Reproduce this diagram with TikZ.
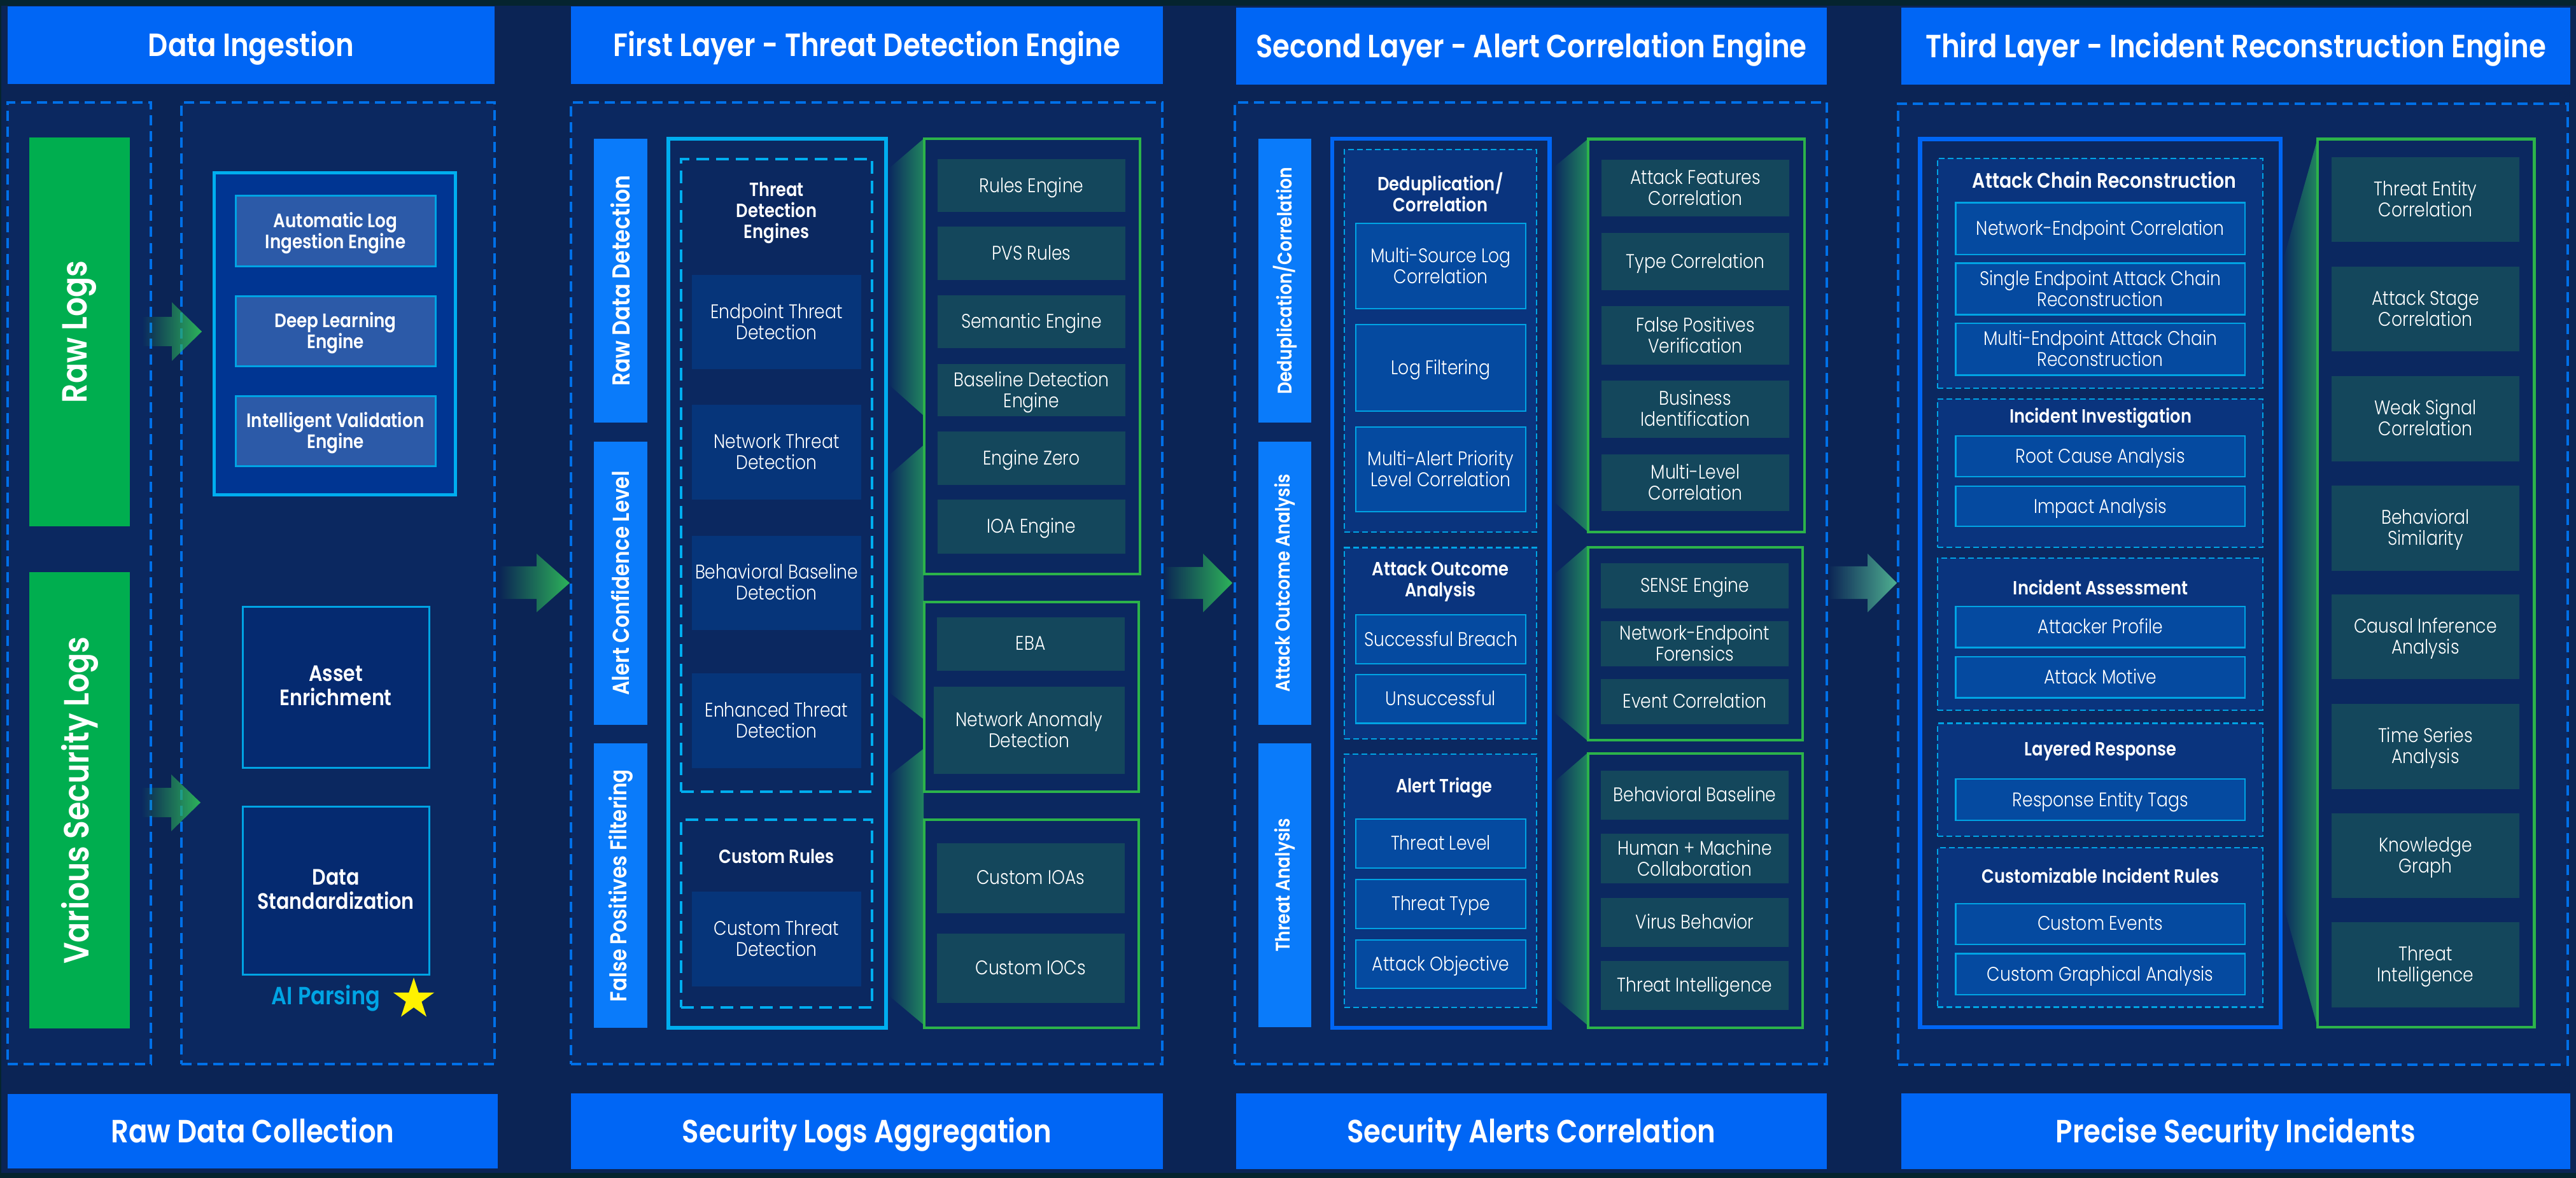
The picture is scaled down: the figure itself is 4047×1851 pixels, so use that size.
\documentclass[tikz,border=0pt]{standalone}
\usepackage{fontspec}
\usetikzlibrary{fadings,shapes.geometric}
\setmainfont{Poppins}
\newfontfamily\fReg[FakeStretch=0.86]{Poppins Light}
\newfontfamily\fHead[FakeStretch=0.86]{Poppins SemiBold}
\definecolor{bgout}{HTML}{05242F}
\definecolor{bgc}{HTML}{0B2455}
\definecolor{panelc}{HTML}{0B2860}
\definecolor{hblue}{HTML}{0066F5}
\definecolor{dashb}{HTML}{0070E8}
\definecolor{barb}{HTML}{0A7BFA}
\definecolor{barg}{HTML}{00AE4F}
\definecolor{cyanl}{HTML}{00AEEF}
\definecolor{cyans}{HTML}{00A4E4}
\definecolor{navyf}{HTML}{003592}
\definecolor{engf}{HTML}{2C5AA8}
\definecolor{stdf}{HTML}{052A70}
\definecolor{grnl}{HTML}{2CB34A}
\definecolor{tealf}{HTML}{14475C}
\definecolor{threatf}{HTML}{06357A}
\definecolor{groupf}{HTML}{0A347E}
\definecolor{itemf}{HTML}{054AA0}
\definecolor{wedgec}{HTML}{21855F}
\definecolor{arrowc}{HTML}{2DB35A}
\definecolor{arrowp}{HTML}{4FB091}
\tikzfading[name=fadeR, left color=transparent!100, right color=transparent!0]
\tikzset{
  every node/.style={inner sep=0pt,outer sep=0pt,align=center,text=white},
  hdr/.style={fill=hblue,font=\fHead\fontsize{50.5}{60}\selectfont},
  dpanel/.style={fill=panelc,draw=dashb,line width=4pt,dash pattern=on 16pt off 9pt},
  greenbar/.style={fill=barg,font=\fHead\fontsize{55}{64}\selectfont},
  bluebar/.style={fill=barb,font=\fHead\fontsize{38.5}{44}\selectfont},
  bluebarm/.style={fill=barb,font=\fHead\fontsize{36.2}{42}\selectfont},
  bluebarb/.style={fill=barb,font=\fHead\fontsize{31}{36}\selectfont},
  cyanbox/.style={fill=navyf,draw=cyanl,line width=5pt},
  engbox/.style={fill=engf,draw=cyans,line width=3pt,font=\fHead\fontsize{30.5}{33}\selectfont},
  stdbox/.style={fill=stdf,draw=cyans,line width=3pt,font=\fHead\fontsize{35}{38}\selectfont},
  aitext/.style={text=cyans,font=\fHead\fontsize{39}{44}\selectfont},
  staricon/.style={star,star points=5,star point ratio=2.618,fill=yellow,minimum size=68pt},
  cyanframe/.style={fill=panelc,draw=cyanl,line width=6pt},
  blueframe/.style={fill=panelc,draw=hblue,line width=6.5pt},
  greenframe/.style={fill=panelc,draw=grnl,line width=4.5pt},
  tealitem/.style={fill=tealf,font=\fReg\fontsize{31}{33}\selectfont},
  cyandash/.style={draw=cyanl,line width=4pt,dash pattern=on 20pt off 11pt},
  threatitem/.style={fill=threatf,font=\fReg\fontsize{31}{33}\selectfont},
  groupbox/.style={fill=groupf,draw=cyans,line width=2.5pt,dash pattern=on 9pt off 5pt},
  blueitem/.style={fill=itemf,draw=cyans,line width=2.5pt,font=\fReg\fontsize{31}{33}\selectfont},
  titletext/.style={font=\fHead\fontsize{30}{33}\selectfont},
  titlewide/.style={font=\fHead\fontsize{33}{36}\selectfont},
  wedge/.style={fill=wedgec,path fading=fadeR},
  blockarrow/.style={fill=arrowc,path fading=fadeR},
  blockpale/.style={fill=arrowp,path fading=fadeR},
}
% empty frame
\newcommand{\fr}[6]{\node[#1,minimum width={(#5-#3)*1pt},minimum height={(#6-#4)*1pt}] (#2) at ({(#3+#5)/2},{(#4+#6)/2}) {};}
% box with text: text node sits a little below the box centre
\newcommand{\bx}[7]{\fr{#1}{#2}{#3}{#4}{#5}{#6}\node[#1,fill=none,draw=none,minimum width=0pt,minimum height=0pt,yshift=-3pt] (#2t) at (#2.center) {\vphantom{Ag}#7\vphantom{Ag}};}
\newcommand{\hx}[7]{\fr{#1}{#2}{#3}{#4}{#5}{#6}\node[#1,fill=none,draw=none,minimum width=0pt,minimum height=0pt,yshift=-5pt] (#2t) at (#2.center) {\vphantom{Ag}#7\vphantom{Ag}};}
\newcommand{\rbx}[7]{\node[#1,rotate=90,minimum width={(#6-#4)*1pt},minimum height={(#5-#3)*1pt}] (#2) at ({(#3+#5)/2},{(#4+#6)/2}) {#7};}
\begin{document}
\begin{tikzpicture}[x=1pt,y=-1pt]
\useasboundingbox (0,0) rectangle (4047,1851);
\fill[bgout] (0,0) rectangle (4047,1851);
\fill[bgc] (2,9) rectangle (4047,1843);
% headers
\hx{hdr}{h1}{12}{10}{777}{132}{Data Ingestion}
\hx{hdr}{h2}{897}{10}{1827}{132}{First Layer - Threat Detection Engine}
\hx{hdr}{h3}{1942}{12}{2870}{133}{Second Layer - Alert Correlation Engine}
\hx{hdr}{h4}{2987}{12}{4038}{133}{Third Layer - Incident Reconstruction Engine}
\hx{hdr}{f1}{12}{1719}{782}{1836}{Raw Data Collection}
\hx{hdr}{f2}{897}{1718}{1827}{1837}{Security Logs Aggregation}
\hx{hdr}{f3}{1942}{1718}{2870}{1837}{Security Alerts Correlation}
\hx{hdr}{f4}{2987}{1718}{4038}{1837}{Precise Security Incidents}
% dashed panels
\fr{dpanel}{pa}{11.5}{161}{237}{1672}
\fr{dpanel}{pb}{285}{161}{777}{1672}
\fr{dpanel}{pc}{897}{161}{1826}{1672}
\fr{dpanel}{pd}{1940}{161}{2870}{1672}
\fr{dpanel}{pe}{2982}{163}{4034}{1673}
% block arrows
\fill[blockarrow] (223,498) -- (270,498) -- (270,475) -- (317,521) -- (270,567) -- (270,544) -- (223,544) -- cycle;
\fill[blockarrow] (222,1238) -- (269,1238) -- (269,1217) -- (315,1261) -- (269,1306) -- (269,1284) -- (222,1284) -- cycle;
\fill[blockarrow] (784,890) -- (843,890) -- (843,870) -- (895,916) -- (843,962) -- (843,941) -- (784,941) -- cycle;
\fill[blockarrow] (1827,891) -- (1890,891) -- (1890,870) -- (1936,916) -- (1890,962) -- (1890,941) -- (1827,941) -- cycle;
\fill[blockpale] (2872,890) -- (2934,890) -- (2934,870) -- (2980,916) -- (2934,962) -- (2934,941) -- (2872,941) -- cycle;
% green bars
\rbx{greenbar}{rawlogs}{46}{216}{204}{827}{Raw Logs}
\rbx{greenbar}{seclogs}{46}{899}{204}{1616}{Various Security Logs}
% ingestion boxes
\fr{cyanbox}{ing}{336}{272}{715}{777.5}
\bx{engbox}{e1}{370}{308}{684}{418}{Automatic Log\\Ingestion Engine}
\bx{engbox}{e2}{370}{465}{684}{575}{Deep Learning\\Engine}
\bx{engbox}{e3}{370}{622}{684}{732}{Intelligent Validation\\Engine}
\bx{stdbox}{asset}{381}{953}{674}{1206}{Asset\\Enrichment}
\bx{stdbox}{std}{381}{1267}{674}{1531}{Data\\Standardization}
\node[aitext] (ai) at (512,1569) {AI Parsing};
\node[staricon] (st) at (650,1570) {};
% wedges
\fill[wedge] (1396,265) -- (1451,218) -- (1451,653) -- (1396,604) -- cycle;
\fill[wedge] (1396,747) -- (1451,699) -- (1451,1130) -- (1396,1087) -- cycle;
\fill[wedge] (1396,1219) -- (1451,1176) -- (1451,1610) -- (1396,1564) -- cycle;
\fill[wedge] (2441,262) -- (2493,219) -- (2493,834) -- (2441,788) -- cycle;
\fill[wedge] (2441,903) -- (2493,858) -- (2493,1163) -- (2441,1119) -- cycle;
\fill[wedge] (2441,1229) -- (2493,1184) -- (2493,1610) -- (2441,1566) -- cycle;
\fill[wedge] (3586,410) -- (3640,219) -- (3640,1610) -- (3586,1418) -- cycle;
% first layer
\rbx{bluebar}{b11}{933}{218.5}{1016.5}{664}{Raw Data Detection}
\rbx{bluebarm}{b12}{933}{693.5}{1016.5}{1139}{Alert Confidence Level}
\rbx{bluebarm}{b13}{933}{1168}{1016.5}{1615}{False Positives Filtering}
\fr{cyanframe}{cf}{1050}{218}{1392}{1615}
\fr{cyandash}{cd1}{1070}{250}{1370}{1244}
\fr{cyandash}{cd2}{1070}{1288}{1370}{1583}
\node[titletext] (tde) at (1220,334) {Threat\\Detection\\Engines};
\bx{threatitem}{t1}{1087}{432}{1353}{580}{Endpoint Threat\\Detection}
\bx{threatitem}{t2}{1087}{636}{1353}{785}{Network Threat\\Detection}
\bx{threatitem}{t3}{1087}{841.5}{1353}{990}{Behavioral Baseline\\Detection}
\bx{threatitem}{t4}{1087}{1058}{1353}{1206.5}{Enhanced Threat\\Detection}
\node[titletext] (tcr) at (1220,1346) {Custom Rules};
\bx{threatitem}{t5}{1087}{1401}{1353}{1550}{Custom Threat\\Detection}
\fr{greenframe}{g11}{1452}{218}{1791}{902}
\fr{greenframe}{g12}{1452}{946}{1789}{1244}
\fr{greenframe}{g13}{1452}{1288}{1789}{1615}
\bx{tealitem}{a1}{1473}{250}{1768}{333}{Rules Engine}
\bx{tealitem}{a2}{1473}{356}{1768}{440}{PVS Rules}
\bx{tealitem}{a3}{1473}{463.5}{1768}{547}{Semantic Engine}
\bx{tealitem}{a4}{1473}{572}{1768}{654}{Baseline Detection\\Engine}
\bx{tealitem}{a5}{1473}{678}{1768}{762}{Engine Zero}
\bx{tealitem}{a6}{1473}{785}{1768}{869.5}{IOA Engine}
\bx{tealitem}{a7}{1472}{970}{1766.5}{1053.5}{EBA}
\bx{tealitem}{a8}{1467}{1078.5}{1766.5}{1216}{Network Anomaly\\Detection}
\bx{tealitem}{a9}{1472}{1325}{1766.5}{1435}{Custom IOAs}
\bx{tealitem}{a10}{1472}{1467}{1766.5}{1576}{Custom IOCs}
% second layer
\rbx{bluebarb}{b21}{1977}{218.5}{2060}{664}{Deduplication/Correlation}
\rbx{bluebarb}{b22}{1977}{693.5}{2060}{1139}{Attack Outcome Analysis}
\rbx{bluebarb}{b23}{1977}{1168}{2060}{1614}{Threat Analysis}
\fr{blueframe}{bf2}{2093}{218}{2434.5}{1615}
\fr{groupbox}{g21}{2112}{235}{2414}{836}
\fr{groupbox}{g22}{2112}{860.5}{2414}{1161}
\fr{groupbox}{g23}{2112}{1185}{2414}{1583}
\node[titletext] (td) at (2263,301.5) {Deduplication/\\Correlation};
\bx{blueitem}{c1}{2130}{351}{2397}{485}{Multi-Source Log\\Correlation}
\bx{blueitem}{c2}{2130}{510}{2397}{646}{Log Filtering}
\bx{blueitem}{c3}{2130}{671}{2397}{804}{Multi-Alert Priority\\Level Correlation}
\node[titletext] (tao) at (2263,913.5) {Attack Outcome\\Analysis};
\bx{blueitem}{c4}{2130}{966}{2397}{1043}{Successful Breach}
\bx{blueitem}{c5}{2130}{1060}{2397}{1136.5}{Unsuccessful}
\node[titletext] (tat) at (2269,1238) {Alert Triage};
\bx{blueitem}{c6}{2130}{1287}{2397}{1364}{Threat Level}
\bx{blueitem}{c7}{2130}{1382}{2397}{1459}{Threat Type}
\bx{blueitem}{c8}{2130}{1477}{2397}{1553}{Attack Objective}
\fr{greenframe}{g21f}{2495}{218.5}{2835}{836}
\fr{greenframe}{g22f}{2495}{860}{2832}{1163}
\fr{greenframe}{g23f}{2495}{1184}{2832}{1615}
\bx{tealitem}{d1}{2516}{251}{2811}{340.5}{Attack Features\\Correlation}
\bx{tealitem}{d2}{2516}{366}{2811}{456}{Type Correlation}
\bx{tealitem}{d3}{2516}{481}{2811}{573}{False Positives\\Verification}
\bx{tealitem}{d4}{2516}{598}{2811}{687.5}{Business\\Identification}
\bx{tealitem}{d5}{2516}{714}{2811}{803}{Multi-Level\\Correlation}
\bx{tealitem}{d6}{2515}{885}{2810}{955.5}{SENSE Engine}
\bx{tealitem}{d7}{2515}{976}{2810}{1046.5}{Network-Endpoint\\Forensics}
\bx{tealitem}{d8}{2515}{1067}{2810}{1137.5}{Event Correlation}
\bx{tealitem}{d9}{2515}{1210.5}{2810}{1288}{Behavioral Baseline}
\bx{tealitem}{d10}{2515}{1310}{2810}{1388}{Human + Machine\\Collaboration}
\bx{tealitem}{d11}{2515}{1411}{2810}{1487.5}{Virus Behavior}
\bx{tealitem}{d12}{2515}{1509.5}{2810}{1587}{Threat Intelligence}
% third layer
\fr{blueframe}{bf3}{3016.5}{218.5}{3583}{1614}
\fr{groupbox}{g31}{3044}{249}{3555}{610}
\fr{groupbox}{g32}{3044}{627}{3555}{860}
\fr{groupbox}{g33}{3044}{877}{3555}{1116}
\fr{groupbox}{g34}{3044}{1136.5}{3555}{1314}
\fr{groupbox}{g35}{3044}{1332}{3555}{1582.5}
\node[titlewide] (ta1) at (3306,283) {Attack Chain Reconstruction};
\bx{blueitem}{e31}{3072.5}{318.5}{3527}{400}{Network-Endpoint Correlation}
\bx{blueitem}{e32}{3072.5}{413.5}{3527}{494.5}{Single Endpoint Attack Chain\\Reconstruction}
\bx{blueitem}{e33}{3072.5}{508}{3527}{589.5}{Multi-Endpoint Attack Chain\\Reconstruction}
\node[titletext] (ta2) at (3300,657) {Incident Investigation};
\bx{blueitem}{e34}{3072.5}{685}{3527}{749}{Root Cause Analysis}
\bx{blueitem}{e35}{3072.5}{764}{3527}{827}{Impact Analysis}
\node[titletext] (ta3) at (3300,922.5) {Incident Assessment};
\bx{blueitem}{e36}{3072.5}{953}{3527}{1017.5}{Attacker Profile}
\bx{blueitem}{e37}{3072.5}{1032}{3527}{1096.5}{Attack Motive}
\node[titletext] (ta4) at (3300,1180) {Layered Response};
\bx{blueitem}{e38}{3072.5}{1224}{3527}{1289}{Response Entity Tags}
\node[titletext] (ta5) at (3300,1376) {Customizable Incident Rules};
\bx{blueitem}{e39}{3072.5}{1420}{3527}{1484}{Custom Events}
\bx{blueitem}{e40}{3072.5}{1498.5}{3527}{1563}{Custom Graphical Analysis}
\fr{greenframe}{g3f}{3641}{218.5}{3981.5}{1614}
\bx{tealitem}{k1}{3663}{247.5}{3958}{380}{Threat Entity\\Correlation}
\bx{tealitem}{k2}{3663}{418.5}{3958}{552}{Attack Stage\\Correlation}
\bx{tealitem}{k3}{3663}{590.5}{3958}{725}{Weak Signal\\Correlation}
\bx{tealitem}{k4}{3663}{762.5}{3958}{896.5}{Behavioral\\Similarity}
\bx{tealitem}{k5}{3663}{933.5}{3958}{1067}{Causal Inference\\Analysis}
\bx{tealitem}{k6}{3663}{1106}{3958}{1239.5}{Time Series\\Analysis}
\bx{tealitem}{k7}{3663}{1277.5}{3958}{1411}{Knowledge\\Graph}
\bx{tealitem}{k8}{3663}{1448.5}{3958}{1582.5}{Threat\\Intelligence}
\end{tikzpicture}
\end{document}
